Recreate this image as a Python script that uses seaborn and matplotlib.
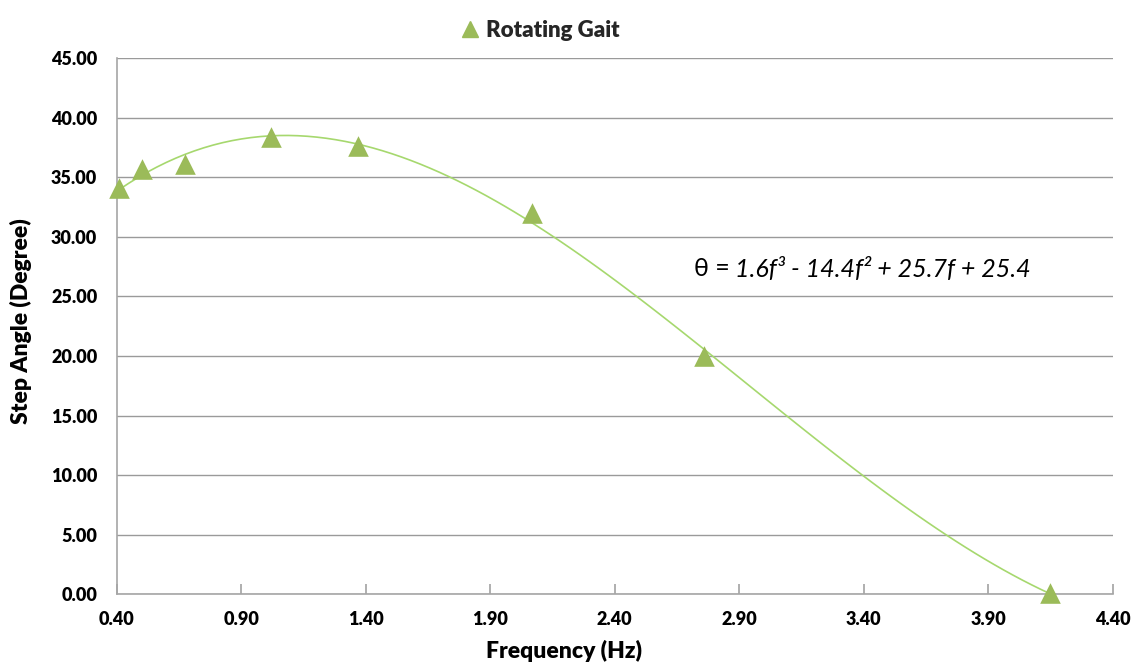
import numpy as np
import pandas as pd
import seaborn as sns
import matplotlib.pyplot as plt
from matplotlib.ticker import FormatStrFormatter
from matplotlib.lines import Line2D

sns.set_theme(style="white")
plt.rcParams['font.family'] = ['Lato', 'DejaVu Sans']

frequency = [0.41, 0.50, 0.675, 1.02, 1.37, 2.07, 2.76, 4.15]
step_angle = [34.1, 35.7, 36.1, 38.4, 37.6, 32.0, 20.0, 0.1]
series_name = "Rotating Gait"
equation = "1.6f³ - 14.4f² + 25.7f + 25.4"

df = pd.DataFrame({"freq": frequency, "angle": step_angle})

marker_green = "#9BBB59"
trend_green = "#A6D86E"
grid_gray = "#9A9A9A"

fig, ax = plt.subplots(figsize=(11.33, 6.67), dpi=100)
fig.subplots_adjust(left=0.103, right=0.982, top=0.913, bottom=0.109)

# cubic trendline, like Excel's polynomial fit
sns.regplot(data=df, x="freq", y="angle", order=3, ci=None, scatter=False,
            line_kws={"color": trend_green, "lw": 1.2}, ax=ax)
sns.scatterplot(data=df, x="freq", y="angle", marker="^", s=220,
                color=marker_green, edgecolor=marker_green, linewidth=0,
                ax=ax, zorder=5, clip_on=False)

ax.set_xlim(0.40, 4.40)
ax.set_ylim(0, 45)
ax.set_xticks(np.arange(0.40, 4.41, 0.5))
ax.set_yticks(np.arange(0, 45.1, 5))
ax.xaxis.set_major_formatter(FormatStrFormatter("%.2f"))
ax.yaxis.set_major_formatter(FormatStrFormatter("%.2f"))

ax.yaxis.grid(True, color=grid_gray, lw=1)
ax.xaxis.grid(False)
ax.set_axisbelow(True)
for side in ["top", "right"]:
    ax.spines[side].set_visible(False)
for side in ["left", "bottom"]:
    ax.spines[side].set_color("#A6A6A6")
    ax.spines[side].set_linewidth(1.2)

ax.tick_params(axis="x", direction="in", length=7, color="#A6A6A6",
               bottom=True, pad=12, labelsize=13, labelcolor="black")
ax.tick_params(axis="y", left=False, pad=8, labelsize=13, labelcolor="black")
for lbl in ax.get_xticklabels() + ax.get_yticklabels():
    lbl.set_fontweight("heavy")

ax.set_xlabel("Frequency (Hz)", fontsize=16.5, fontweight="heavy", color="black")
ax.set_ylabel("Step Angle (Degree)", fontsize=16.5, fontweight="heavy", color="black")
ax.xaxis.set_label_coords(0.449, -0.086)
ax.yaxis.set_label_coords(-0.085, 0.51)

ax.text(2.72, 27.3, "θ = ", fontsize=18, ha="left", va="center", color="black")
ax.text(2.885, 27.3, equation, fontsize=18, style="italic", ha="left",
        va="center", color="black")

handle = Line2D([], [], marker="^", color=marker_green, linestyle="none", markersize=11)
leg = fig.legend([handle], [series_name], loc="upper center",
                 bbox_to_anchor=(0.471, 1.0), frameon=False, handletextpad=-0.3,
                 prop={"weight": "heavy", "size": 16})

fig.savefig("out.png", dpi=100)
